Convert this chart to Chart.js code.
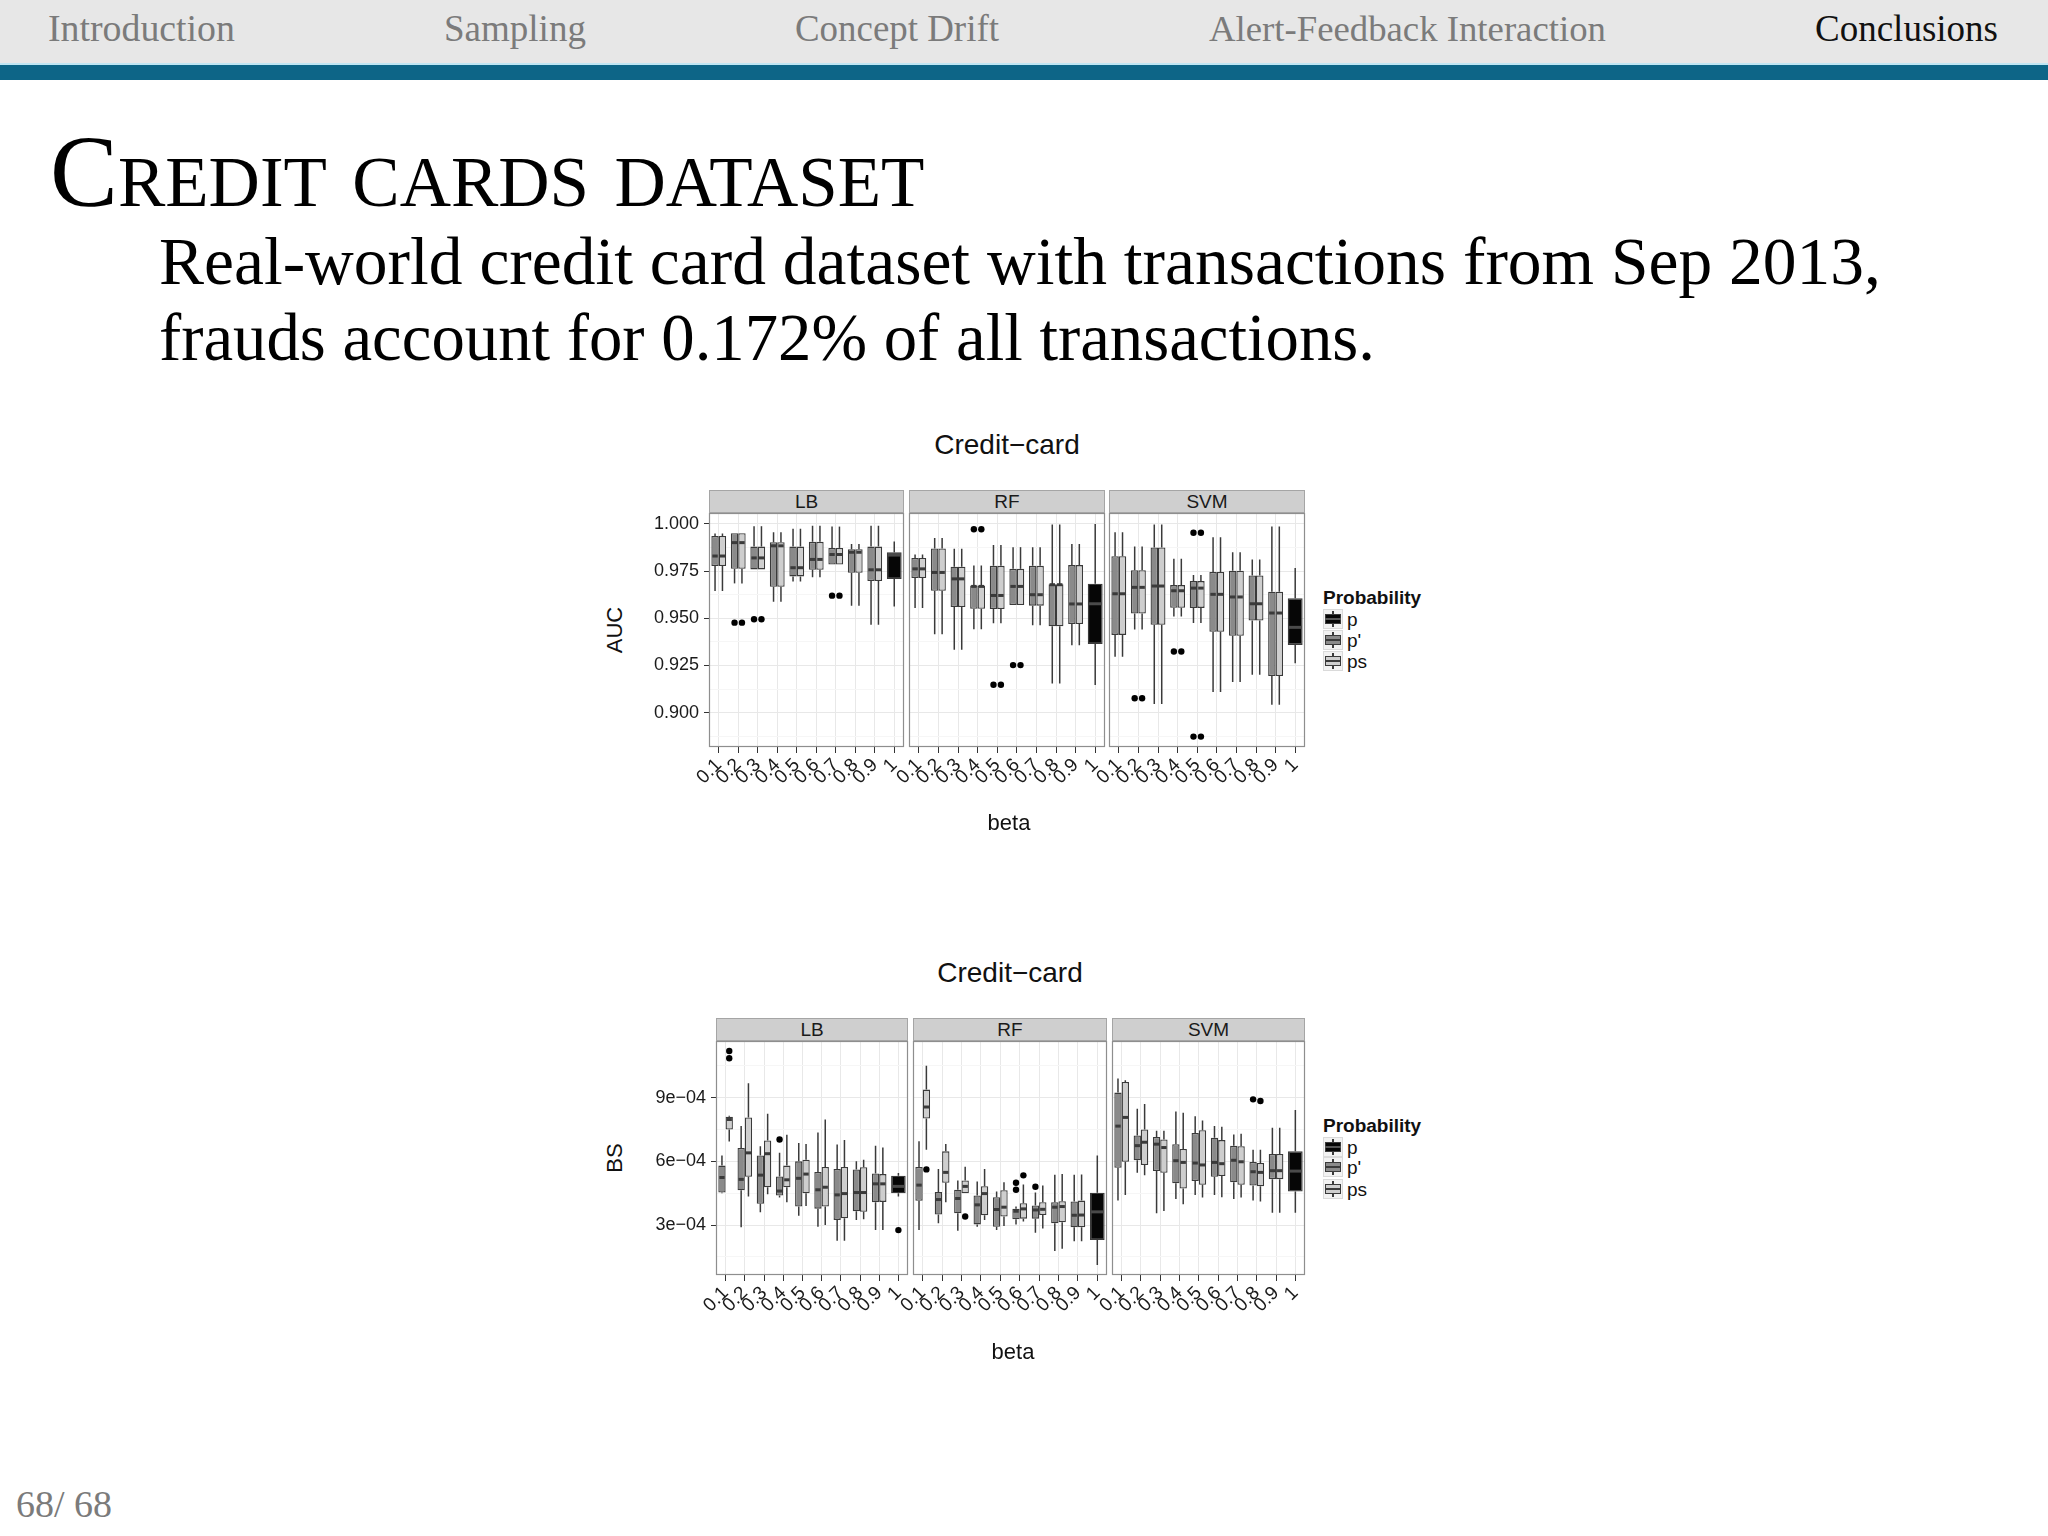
<!DOCTYPE html>
<html>
<head>
<meta charset="utf-8">
<script src="https://cdn.jsdelivr.net/npm/chart.js@4.4.0/dist/chart.umd.min.js"></script>
<style>
html, body { margin: 0; padding: 0; background: #fff; }
body { width: 2048px; height: 1536px; position: relative; overflow: hidden; font-family: "Liberation Sans", Arial, sans-serif; }
.t { position: absolute; white-space: nowrap; line-height: 1; }
.serif { font-family: "Liberation Serif", "DejaVu Serif", serif; }
.c { transform: translate(-50%, -50%); }
#topbar { position: absolute; left: 0; top: 0; width: 2048px; height: 63px; background: #e7e7e7; }
#band { position: absolute; left: 0; top: 63px; width: 2048px; height: 15px; background: #0d6587; border-top: 2px solid #bfe6f3; }
.strip { position: absolute; background: #cfcfcf; border: 1px solid #a5a5a5; box-sizing: border-box; text-align: center; font-size: 19px; color: #1a1a1a; }
canvas { position: absolute; }
.key { position: absolute; width: 20px; height: 20px; background: #f2f2f2; border: 1px solid #dadada; box-sizing: border-box; }
.key i { position: absolute; display: block; }
</style>
</head>
<body>
<div id="topbar"></div>
<div id="band"></div>
<script>
var betaLabels = ['0.1', '0.2', '0.3', '0.4', '0.5', '0.6', '0.7', '0.8', '0.9', '1'];
var aucTicks = [0.900, 0.925, 0.950, 0.975, 1.000];
var bsTicks = [3, 6, 9];                       // BS values are in units of 1e-04
var bsTickLabels = ['3e\u221204', '6e\u221204', '9e\u221204'];

// each box: [lower whisker, Q1, median, Q3, upper whisker]
// AUC, LB
var aucLB_pp = [
    [0.9645, 0.9777, 0.9830, 0.9936, 0.9950],
    [0.9685, 0.9762, 0.9901, 0.9951, 0.9951],
    [0.9759, 0.9759, 0.9820, 0.9880, 0.9988],
    [0.9588, 0.9667, 0.9884, 0.9903, 0.9956],
    [0.9695, 0.9722, 0.9768, 0.9880, 0.9974],
    [0.9718, 0.9757, 0.9812, 0.9905, 0.9991],
    [0.9785, 0.9785, 0.9838, 0.9873, 0.9986],
    [0.9567, 0.9741, 0.9850, 0.9866, 0.9894],
    [0.9466, 0.9697, 0.9757, 0.9880, 0.9991]
];
var aucLB_ps = aucLB_pp;
var aucLB_p = [[0.9562, 0.9708, 0.9835, 0.9850, 0.9907]];
var aucLB_out = [[], [0.9477], [0.9495], [], [], [], [0.9620], [], []];
// AUC, RF
var aucRF_pp = [
    [0.9555, 0.9713, 0.9762, 0.9820, 0.9838],
    [0.9415, 0.9646, 0.9743, 0.9870, 0.9926],
    [0.9334, 0.9560, 0.9709, 0.9773, 0.9868],
    [0.9442, 0.9551, 0.9669, 0.9674, 0.9780],
    [0.9474, 0.9549, 0.9621, 0.9778, 0.9889],
    [0.9570, 0.9570, 0.9669, 0.9762, 0.9877],
    [0.9463, 0.9567, 0.9625, 0.9778, 0.9877],
    [0.9155, 0.9458, 0.9678, 0.9680, 0.9997],
    [0.9357, 0.9470, 0.9576, 0.9782, 0.9894]
];
var aucRF_ps = aucRF_pp;
var aucRF_p = [[0.9146, 0.9364, 0.9577, 0.9683, 1.0000]];
var aucRF_out = [[], [], [], [0.9972], [0.9148], [0.9252], [], [], []];
// AUC, SVM
var aucSVM_pp = [
    [0.9296, 0.9412, 0.9630, 0.9829, 0.9956],
    [0.9440, 0.9525, 0.9664, 0.9755, 0.9880],
    [0.9046, 0.9466, 0.9671, 0.9875, 0.9997],
    [0.9510, 0.9556, 0.9646, 0.9676, 0.9815],
    [0.9475, 0.9555, 0.9660, 0.9697, 0.9729],
    [0.9109, 0.9429, 0.9627, 0.9746, 0.9930],
    [0.9162, 0.9407, 0.9613, 0.9752, 0.9850],
    [0.9201, 0.9488, 0.9577, 0.9727, 0.9812],
    [0.9042, 0.9194, 0.9528, 0.9641, 0.9986]
];
var aucSVM_ps = aucSVM_pp;
var aucSVM_p = [[0.9262, 0.9359, 0.9452, 0.9606, 0.9766]];
var aucSVM_out = [[], [0.9076], [], [0.9324], [0.9953, 0.8873], [], [], [], []];

// BS (x 1e-04), LB
var bsLB_pp = [
    [4.50, 4.53, 5.24, 5.80, 6.27],
    [2.89, 4.64, 5.15, 6.63, 7.67],
    [3.60, 4.00, 5.35, 6.28, 6.71],
    [4.30, 4.39, 4.60, 5.29, 6.40],
    [3.44, 3.87, 5.20, 6.00, 6.87],
    [2.92, 3.77, 4.66, 5.50, 7.36],
    [2.26, 3.24, 4.42, 5.64, 6.79],
    [3.24, 3.65, 4.53, 5.62, 6.00],
    [2.76, 4.07, 4.94, 5.43, 6.73]
];
var bsLB_ps = [
    [6.93, 7.50, 7.97, 8.10, 8.15],
    [4.34, 5.27, 6.40, 8.07, 9.68],
    [4.45, 4.78, 6.36, 6.98, 8.24],
    [4.07, 4.78, 5.13, 5.80, 7.25],
    [3.90, 4.50, 5.40, 6.08, 6.82],
    [3.00, 3.87, 4.78, 5.73, 7.97],
    [2.26, 3.32, 4.48, 5.73, 7.01],
    [3.27, 3.62, 4.53, 5.72, 6.08],
    [2.76, 4.09, 4.94, 5.40, 6.65]
];
var bsLB_p = [[4.34, 4.50, 4.82, 5.32, 5.45]];
var bsLB_ppOut = [[], [], [], [7.03], [], [], [], [], []];
var bsLB_psOut = [[11.20, 10.86], [], [], [], [], [], [], [], []];
var bsLB_pOut = [[2.76]];
// BS, RF
var bsRF_pp = [
    [2.76, 4.14, 4.88, 5.73, 6.95],
    [3.08, 3.49, 4.20, 4.55, 5.64],
    [2.73, 3.55, 4.25, 4.66, 5.10],
    [2.92, 3.03, 3.95, 4.39, 5.05],
    [2.76, 2.92, 3.73, 4.31, 4.58],
    [3.03, 3.27, 3.65, 3.77, 3.87],
    [2.64, 3.30, 3.71, 3.92, 4.53],
    [1.78, 3.08, 3.84, 4.07, 5.37],
    [2.23, 2.89, 3.46, 4.11, 5.37]
];
var bsRF_ps = [
    [6.55, 8.02, 8.56, 9.38, 10.50],
    [4.07, 4.99, 5.48, 6.47, 6.82],
    [4.50, 4.50, 4.82, 5.10, 5.75],
    [3.24, 3.46, 4.48, 4.83, 5.64],
    [2.95, 3.40, 3.84, 4.64, 5.01],
    [3.16, 3.30, 3.76, 4.03, 4.91],
    [2.83, 3.47, 3.74, 4.07, 4.86],
    [1.88, 3.13, 3.87, 4.12, 5.40],
    [2.23, 2.89, 3.47, 4.15, 5.38]
];
var bsRF_p = [[1.12, 2.29, 3.62, 4.52, 6.28]];
var bsRF_ppOut = [[], [], [], [], [], [4.99, 4.66], [4.80], [], []];
var bsRF_psOut = [[5.62], [], [3.40], [], [], [5.34], [], [], []];
// BS, SVM
var bsSVM_pp = [
    [4.15, 5.70, 7.66, 9.24, 9.90],
    [5.46, 6.05, 6.74, 7.22, 8.48],
    [3.55, 5.54, 6.81, 7.15, 7.44],
    [4.22, 4.97, 6.03, 6.81, 8.35],
    [4.41, 5.07, 5.92, 7.34, 8.13],
    [4.41, 5.27, 5.95, 7.11, 7.67],
    [4.23, 5.01, 6.05, 6.73, 7.26],
    [4.15, 4.86, 5.51, 5.97, 6.55],
    [3.58, 5.16, 5.56, 6.35, 7.58]
];
var bsSVM_ps = [
    [4.41, 5.98, 8.07, 9.74, 9.82],
    [5.35, 5.83, 6.90, 7.50, 8.70],
    [3.66, 5.46, 6.65, 7.03, 7.44],
    [3.98, 4.72, 5.95, 6.58, 8.29],
    [4.30, 4.90, 5.83, 7.47, 7.93],
    [4.31, 5.31, 5.89, 7.00, 7.63],
    [4.30, 4.90, 5.98, 6.71, 7.30],
    [4.11, 4.83, 5.48, 5.92, 6.55],
    [3.58, 5.16, 5.56, 6.35, 7.58]
];
var bsSVM_p = [[3.58, 4.58, 5.54, 6.47, 8.42]];
var bsSVM_ppOut = [[], [], [], [], [], [], [], [8.92], []];
var bsSVM_psOut = [[], [], [], [], [], [], [], [8.84], []];

var FONT = '"Liberation Sans", Arial, sans-serif';
var LINE = '#3a3a3a';
var FILL_P = '#060606', FILL_PP = '#8a8a8a', FILL_PS = '#cecece';

function addText(txt, x, y, opt) {
    opt = opt || {};
    var d = document.createElement('div');
    d.className = 't' + (opt.serif ? ' serif' : '') + (opt.center ? ' c' : '');
    d.textContent = txt;
    d.style.fontSize = (opt.size || 20) + 'px';
    d.style.color = opt.color || '#111';
    if (opt.bold) d.style.fontWeight = 'bold';
    if (opt.smallCaps) d.style.fontVariant = 'small-caps';
    d.style.left = x + 'px';
    document.body.appendChild(d);
    var size = opt.size || 20;
    if (opt.width) {   // scale font so the text spans the width seen in the slide
        var w = d.getBoundingClientRect().width;
        size = size * opt.width / w;
        d.style.fontSize = size + 'px';
    }
    if (opt.center) {
        d.style.top = y + 'px';
        if (opt.rotate) d.style.transform = 'translate(-50%, -50%) rotate(-90deg)';
    } else {
        d.style.top = (y - size * 0.5) + 'px';
    }
    return d;
}

var boxPlugin = {
    id: 'boxExtras',
    afterDatasetsDraw: function (chart) {
        var ctx = chart.ctx, ys = chart.scales.y;
        chart.data.datasets.forEach(function (ds, i) {
            var meta = chart.getDatasetMeta(i);
            ds.stats.forEach(function (s, j) {
                if (!s) return;
                var el = meta.data[j];
                var x = el.x, w = el.width;
                ctx.save();
                ctx.strokeStyle = LINE;
                ctx.lineWidth = 1.5;
                ctx.beginPath();
                ctx.moveTo(x, ys.getPixelForValue(s[4]));
                ctx.lineTo(x, ys.getPixelForValue(s[3]));
                ctx.moveTo(x, ys.getPixelForValue(s[1]));
                ctx.lineTo(x, ys.getPixelForValue(s[0]));
                ctx.stroke();
                ctx.strokeStyle = ds.medianColor || LINE;
                ctx.lineWidth = 3;
                var ym = ys.getPixelForValue(s[2]);
                ctx.beginPath();
                ctx.moveTo(x - w / 2 + 1, ym);
                ctx.lineTo(x + w / 2 - 1, ym);
                ctx.stroke();
                ctx.fillStyle = '#000';
                (ds.outl[j] || []).forEach(function (v) {
                    ctx.beginPath();
                    ctx.arc(x, ys.getPixelForValue(v), 3.2, 0, Math.PI * 2);
                    ctx.fill();
                });
                ctx.restore();
            });
        });
    },
    afterDraw: function (chart) {
        var a = chart.chartArea, ctx = chart.ctx;
        ctx.save();
        ctx.strokeStyle = '#8e8e8e';
        ctx.lineWidth = 1.2;
        ctx.strokeRect(a.left + 0.5, a.top + 0.5, a.right - a.left - 1, a.bottom - a.top - 1);
        ctx.restore();
    }
};

function boxPanel(cfg) {
    var axisW = cfg.showY ? 80 : 40, padTop = 2, padRight = 3, xAxisH = 64;
    var cv = document.createElement('canvas');
    cv.width = axisW + cfg.w + padRight;
    cv.height = padTop + cfg.h + xAxisH;
    cv.style.left = (cfg.x - axisW) + 'px';
    cv.style.top = (cfg.y - padTop) + 'px';
    document.body.appendChild(cv);

    var strip = document.createElement('div');
    strip.className = 'strip';
    strip.style.left = cfg.x + 'px';
    strip.style.top = (cfg.y - 23) + 'px';
    strip.style.width = cfg.w + 'px';
    strip.style.height = '23px';
    strip.style.lineHeight = '22px';
    strip.textContent = cfg.name;
    document.body.appendChild(strip);

    var majors = cfg.majors;
    var step = majors[1] - majors[0];
    var allTicks = majors.slice();
    majors.forEach(function (m) { allTicks.push(m - step / 2); });
    allTicks.push(majors[majors.length - 1] + step / 2);
    allTicks = allTicks.filter(function (v) { return v > cfg.min && v < cfg.max; }).sort(function (a, b) { return a - b; });
    function isMajor(v) {
        return majors.some(function (m) { return Math.abs(m - v) < 1e-9; });
    }
    var none = [null, null, null, null, null, null, null, null, null];
    function box(s) { return [s[1], s[3]]; }

    var datasets = [{
        label: "p'",
        data: cfg.pp.map(box).concat([null]),
        stats: cfg.pp.concat([null]),
        outl: cfg.ppOut.concat([[]]),
        backgroundColor: FILL_PP
    }, {
        label: 'ps',
        data: cfg.ps.map(box).concat([null]),
        stats: cfg.ps.concat([null]),
        outl: cfg.psOut.concat([[]]),
        backgroundColor: FILL_PS
    }, {
        label: 'p',
        data: none.concat(cfg.p.map(box)),
        stats: none.concat(cfg.p),
        outl: none.concat(cfg.pOut),
        backgroundColor: FILL_P,
        medianColor: '#4a4a4a'
    }];
    datasets.forEach(function (d) {
        d.borderColor = LINE;
        d.borderWidth = 1.3;
        d.borderSkipped = false;
        d.skipNull = true;
        d.barPercentage = 1.0;
        d.categoryPercentage = 0.76;
    });

    return new Chart(cv, {
        type: 'bar',
        data: { labels: betaLabels, datasets: datasets },
        options: {
            responsive: false,
            animation: false,
            devicePixelRatio: 1,
            layout: { padding: { top: padTop, right: padRight, left: 0, bottom: 0 } },
            plugins: { legend: { display: false }, tooltip: { enabled: false } },
            scales: {
                x: {
                    offset: true,
                    grid: { offset: false, color: '#e8e8e8', tickColor: '#333', tickLength: 6 },
                    border: { display: false },
                    ticks: {
                        autoSkip: false, minRotation: 45, maxRotation: 45,
                        font: { family: FONT, size: 19 }, color: '#1a1a1a', padding: 1
                    },
                    afterFit: function (s) { s.height = xAxisH; s.paddingLeft = 0; s.paddingRight = 0; }
                },
                y: {
                    min: cfg.min, max: cfg.max,
                    beginAtZero: false,
                    afterBuildTicks: function (s) {
                        s.ticks = allTicks.map(function (v) { return { value: v }; });
                    },
                    grid: {
                        color: function (c) { return isMajor(c.tick.value) ? '#e8e8e8' : '#f6f6f6'; },
                        tickColor: function (c) { return isMajor(c.tick.value) ? '#333' : 'rgba(0,0,0,0)'; },
                        tickLength: 5,
                        drawTicks: cfg.showY
                    },
                    border: { display: false },
                    ticks: {
                        display: cfg.showY,
                        padding: 5,
                        font: { family: FONT, size: 18 }, color: '#1a1a1a',
                        callback: function (v) { return isMajor(v) ? cfg.fmt(v) : ''; }
                    },
                    afterFit: function (s) { s.width = axisW; s.paddingTop = 0; s.paddingBottom = 0; }
                }
            }
        },
        plugins: [boxPlugin]
    });
}

function legend(x, yTitle, yKeys) {
    addText('Probability', x, yTitle, { size: 19, bold: true });
    var keys = [['p', FILL_P, '#555'], ["p'", FILL_PP, LINE], ['ps', FILL_PS, LINE]];
    keys.forEach(function (k, i) {
        var d = document.createElement('div');
        d.className = 'key';
        d.style.left = x + 'px';
        d.style.top = (yKeys[i] - 10) + 'px';
        d.innerHTML = '<i style="left:8px;top:1px;width:1.5px;height:16px;background:' + LINE + '"></i>' +
            '<i style="left:1px;top:4px;width:16px;height:10px;box-sizing:border-box;border:1px solid ' + LINE + ';background:' + k[1] + '"></i>' +
            '<i style="left:1px;top:8px;width:16px;height:2px;background:' + k[2] + '"></i>';
        document.body.appendChild(d);
        addText(k[0], x + 24, yKeys[i], { size: 19 });
    });
}

// slide header and text
var navGrey = '#7b7b7b';
addText('Introduction', 48, 29, { serif: true, size: 30, width: 187, color: navGrey });
addText('Sampling', 444, 29, { serif: true, size: 30, width: 142, color: navGrey });
addText('Concept Drift', 795, 29, { serif: true, size: 30, width: 204, color: navGrey });
addText('Alert-Feedback Interaction', 1209, 29, { serif: true, size: 30, width: 397, color: navGrey });
addText('Conclusions', 1815, 29, { serif: true, size: 30, width: 183, color: '#111' });
addText('Credit cards dataset', 50, 172, { serif: true, size: 80, width: 877, smallCaps: true, color: '#000' });
addText('Real-world credit card dataset with transactions from Sep 2013,', 159, 262, { serif: true, size: 64, width: 1722, color: '#000' });
addText('frauds account for 0.172% of all transactions.', 159, 338, { serif: true, size: 64, width: 1216, color: '#000' });
addText('68/ 68', 16, 1505, { serif: true, size: 30, width: 96, color: navGrey });

// AUC figure
var aucFmt = function (v) { return v.toFixed(3); };
var aucBase = { y: 513, h: 234, min: 0.8818, max: 1.0058, majors: aucTicks, fmt: aucFmt };
boxPanel(Object.assign({}, aucBase, { name: 'LB', x: 709, w: 195, showY: true,
    pp: aucLB_pp, ps: aucLB_ps, p: aucLB_p, ppOut: aucLB_out, psOut: aucLB_out, pOut: [[]] }));
boxPanel(Object.assign({}, aucBase, { name: 'RF', x: 909, w: 196, showY: false,
    pp: aucRF_pp, ps: aucRF_ps, p: aucRF_p, ppOut: aucRF_out, psOut: aucRF_out, pOut: [[]] }));
boxPanel(Object.assign({}, aucBase, { name: 'SVM', x: 1109, w: 196, showY: false,
    pp: aucSVM_pp, ps: aucSVM_ps, p: aucSVM_p, ppOut: aucSVM_out, psOut: aucSVM_out, pOut: [[]] }));
addText('Credit\u2212card', 1007, 445, { size: 28, center: true });
addText('AUC', 615, 630, { size: 22, center: true, rotate: true });
addText('beta', 1009, 823, { size: 22, center: true });
legend(1323, 597, [619, 640, 661]);

// BS figure
var bsFmt = function (v) { return bsTickLabels[bsTicks.indexOf(v)]; };
var bsBase = { y: 1041, h: 234, min: 0.645, max: 11.67, majors: bsTicks, fmt: bsFmt };
boxPanel(Object.assign({}, bsBase, { name: 'LB', x: 716, w: 192, showY: true,
    pp: bsLB_pp, ps: bsLB_ps, p: bsLB_p, ppOut: bsLB_ppOut, psOut: bsLB_psOut, pOut: bsLB_pOut }));
boxPanel(Object.assign({}, bsBase, { name: 'RF', x: 913, w: 194, showY: false,
    pp: bsRF_pp, ps: bsRF_ps, p: bsRF_p, ppOut: bsRF_ppOut, psOut: bsRF_psOut, pOut: [[]] }));
boxPanel(Object.assign({}, bsBase, { name: 'SVM', x: 1112, w: 193, showY: false,
    pp: bsSVM_pp, ps: bsSVM_ps, p: bsSVM_p, ppOut: bsSVM_ppOut, psOut: bsSVM_psOut, pOut: [[]] }));
addText('Credit\u2212card', 1010, 973, { size: 28, center: true });
addText('BS', 615, 1158, { size: 22, center: true, rotate: true });
addText('beta', 1013, 1352, { size: 22, center: true });
legend(1323, 1125, [1147, 1167, 1189]);
</script>
</body>
</html>
